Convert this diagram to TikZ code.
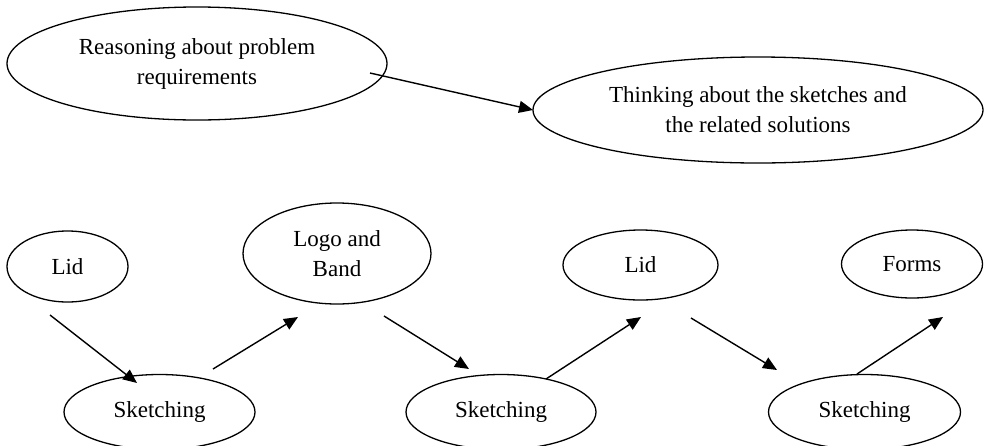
\documentclass[tikz,border=0pt]{standalone}
\usepackage{fontspec}
\setmainfont{Liberation Serif}
\usetikzlibrary{shapes.geometric,arrows.meta}
\tikzset{
  oval/.style={draw, ellipse, line width=1.3pt, inner sep=0pt, align=center,
    font=\fontsize{23}{30}\selectfont},
  arr/.style={line width=1.4pt, -{Triangle[length=14pt,width=12pt]}}
}
\begin{document}
\begin{tikzpicture}[x=1pt,y=-1pt]
\useasboundingbox[fill=white] (0,0) rectangle (984,445);
% top
\node[oval, minimum width=380pt, minimum height=113pt] (reason) at (197,63.5) {Reasoning about problem\\requirements};
\node[oval, minimum width=450pt, minimum height=106pt] (think) at (758,110) {Thinking about the sketches and\\the related solutions};
% bottom row
\node[oval, minimum width=121pt, minimum height=71pt] (lid1) at (67.5,266.5) {Lid};
\node[oval, minimum width=188pt, minimum height=101pt] (logo) at (337,253.5) {Logo and\\Band};
\node[oval, minimum width=155pt, minimum height=70pt] (lid2) at (640.5,265) {Lid};
\node[oval, minimum width=141pt, minimum height=68pt] (forms) at (912,264) {Forms};
\node[oval, minimum width=191pt, minimum height=75pt] (sk1) at (159.5,412) {Sketching};
\node[oval, minimum width=190pt, minimum height=75pt] (sk2) at (501,412) {Sketching};
\node[oval, minimum width=192pt, minimum height=75pt] (sk3) at (864.5,412) {Sketching};
% connector end points
\coordinate (r0) at (370,73);   \coordinate (r1) at (533,110);
\coordinate (a0) at (50,315);   \coordinate (a1) at (137,383);
\coordinate (b0) at (213,369);  \coordinate (b1) at (298,317);
\coordinate (c0) at (384,316);  \coordinate (c1) at (469,369);
\coordinate (d0) at (546,379);  \coordinate (d1) at (641,317);
\coordinate (e0) at (691,318);  \coordinate (e1) at (777,370);
\coordinate (f0) at (857,374);  \coordinate (f1) at (943,317);
\draw[arr] (r0) -- (r1);
\draw[arr] (a0) -- (a1);
\draw[arr] (b0) -- (b1);
\draw[arr] (c0) -- (c1);
\draw[arr] (d0) -- (d1);
\draw[arr] (e0) -- (e1);
\draw[arr] (f0) -- (f1);
\end{tikzpicture}
\end{document}
